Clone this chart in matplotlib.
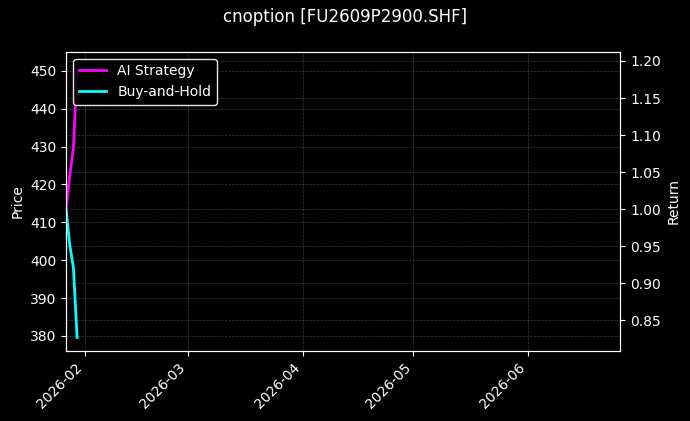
import matplotlib
matplotlib.use("Agg")
import matplotlib.pyplot as plt
import matplotlib.dates as mdates
import numpy as np

TITLE = "cnoption [FU2609P2900.SHF]"
DATES = np.array(["2026-01-27", "2026-01-28", "2026-01-29", "2026-01-30"], dtype="datetime64[D]")
AI_STRATEGY = [1.000, 1.045, 1.083, 1.194]
BUY_HOLD = [1.000, 0.952, 0.921, 0.827]
X_RANGE = np.array(["2026-01-27", "2026-06-26"], dtype="datetime64[D]")
PRICE_RANGE = (376, 455)

plt.style.use("dark_background")
fig, ax = plt.subplots(figsize=(6.9, 4.21), dpi=100)
fig.subplots_adjust(left=0.0957, right=0.899, top=0.877, bottom=0.166)
ax2 = ax.twinx()

ax2.plot(DATES, AI_STRATEGY, color="#ff00ff", linewidth=2, label="AI Strategy")
ax2.plot(DATES, BUY_HOLD, color="#00ffff", linewidth=2, label="Buy-and-Hold")

ax.set_xlim(X_RANGE[0], X_RANGE[1])
ax.set_ylim(*PRICE_RANGE)
ax.set_ylabel("Price")
ax2.set_ylabel("Return")

ax.xaxis.set_major_locator(mdates.MonthLocator())
ax.xaxis.set_major_formatter(mdates.DateFormatter("%Y-%m"))
plt.setp(ax.get_xticklabels(), rotation=45, ha="right")

ax.grid(True, linestyle="--", linewidth=0.5, color="gray", alpha=0.45)
ax2.grid(True, linestyle="--", linewidth=0.5, color="gray", alpha=0.45)

ax2.legend(loc="upper left", facecolor="black", edgecolor="white", framealpha=0.9)
fig.suptitle(TITLE, fontsize=12, y=0.98)

fig.savefig("out.png", dpi=100)
